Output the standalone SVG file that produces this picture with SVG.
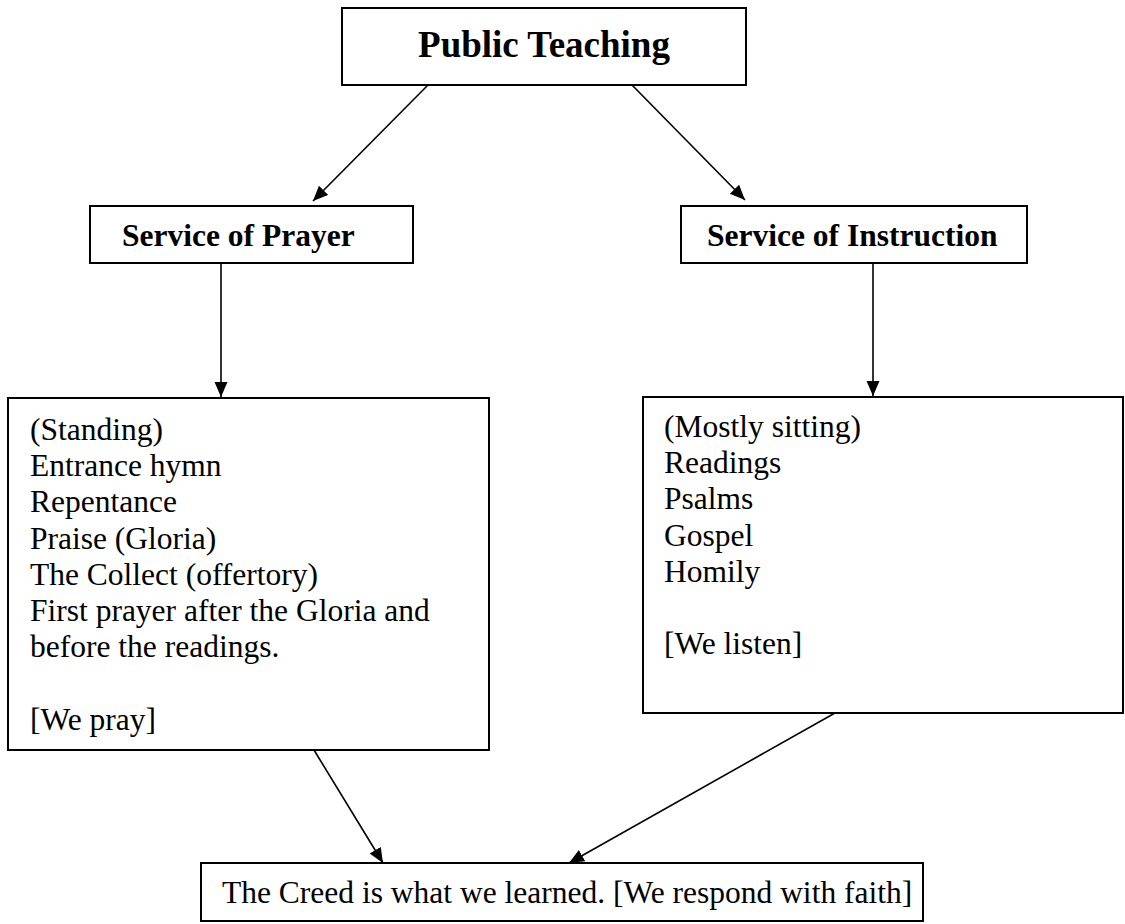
<svg xmlns="http://www.w3.org/2000/svg" width="1125" height="924" viewBox="0 0 1125 924">
<style>
.box{fill:#fff;stroke:#000;stroke-width:2}
.t{font-family:"Liberation Serif","Times New Roman",serif;font-size:31.5px;fill:#000}
.b{font-weight:bold}
.c{stroke:#000;stroke-width:1.6;fill:none}
</style>
<defs>
<marker id="ah" markerUnits="userSpaceOnUse" markerWidth="16" markerHeight="14" refX="15" refY="6.5" orient="auto" viewBox="0 0 16 14">
<path d="M0,0 L15,6.5 L0,13 z" fill="#000"/>
</marker>
</defs>
<rect width="1125" height="924" fill="#fff"/>
<g id="connectors">
<line class="c" x1="428" y1="85" x2="313" y2="201" marker-end="url(#ah)"/>
<line class="c" x1="632" y1="85" x2="745" y2="200" marker-end="url(#ah)"/>
<line class="c" x1="221" y1="263" x2="221" y2="397" marker-end="url(#ah)"/>
<line class="c" x1="873" y1="263" x2="873" y2="396" marker-end="url(#ah)"/>
<line class="c" x1="314" y1="750" x2="383" y2="863" marker-end="url(#ah)"/>
<line class="c" x1="835" y1="713" x2="569" y2="863" marker-end="url(#ah)"/>
</g>
<g id="public-teaching">
<rect class="box" x="342" y="8" width="404" height="77"/>
<text class="t b" x="544" y="57" text-anchor="middle" style="font-size:37px">Public Teaching</text>
</g>
<g id="service-prayer">
<rect class="box" x="90" y="206" width="323" height="57"/>
<text class="t b" x="122" y="246">Service of Prayer</text>
</g>
<g id="service-instruction">
<rect class="box" x="681" y="206" width="346" height="57"/>
<text class="t b" x="707" y="246">Service of Instruction</text>
</g>
<g id="prayer-content">
<rect class="box" x="8" y="398" width="481" height="352"/>
<text class="t" x="30" y="440">(Standing)</text>
<text class="t" x="30" y="476.2">Entrance hymn</text>
<text class="t" x="30" y="512.4">Repentance</text>
<text class="t" x="30" y="548.6">Praise (Gloria)</text>
<text class="t" x="30" y="584.8">The Collect (offertory)</text>
<text class="t" x="30" y="621">First prayer after the Gloria and</text>
<text class="t" x="30" y="657.2">before the readings.</text>
<text class="t" x="30" y="729.6">[We pray]</text>
</g>
<g id="instruction-content">
<rect class="box" x="643" y="397" width="480" height="316"/>
<text class="t" x="664" y="437">(Mostly sitting)</text>
<text class="t" x="664" y="473.2">Readings</text>
<text class="t" x="664" y="509.4">Psalms</text>
<text class="t" x="664" y="545.6">Gospel</text>
<text class="t" x="664" y="581.8">Homily</text>
<text class="t" x="664" y="654.2">[We listen]</text>
</g>
<g id="creed">
<rect class="box" x="201" y="863" width="722" height="58"/>
<text class="t" x="222" y="903">The Creed is what we learned. [We respond with faith]</text>
</g>
</svg>
